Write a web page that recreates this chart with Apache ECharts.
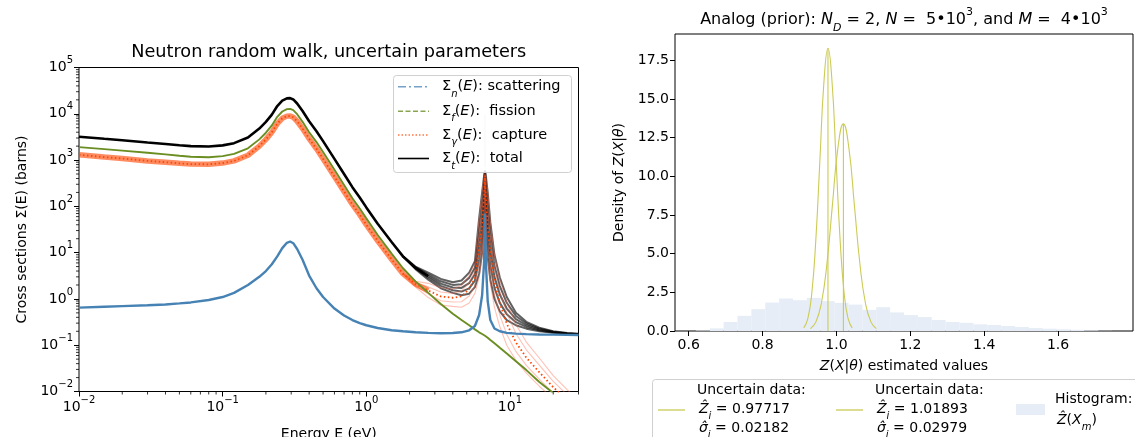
<!DOCTYPE html>
<html><head><meta charset="utf-8">
<script src="https://cdn.jsdelivr.net/npm/echarts@6/dist/echarts.min.js"></script>
<style>html,body{margin:0;padding:0;background:#fff}#c{width:1135px;height:437px}</style>
</head><body><div id="c"></div>
<script>
// ---------------- LEFT PANEL DATA (energy in eV, cross sections in barns) ----------------
const energy = [0.01, 0.015, 0.02, 0.03, 0.04, 0.05, 0.06, 0.08, 0.1, 0.12,
  0.15, 0.18, 0.2, 0.22, 0.24, 0.26, 0.28, 0.295, 0.31, 0.33,
  0.36, 0.4, 0.45, 0.5, 0.6, 0.7, 0.8, 0.9, 1.0, 1.2,
  1.5, 1.8,
  2.2, 2.7, 3.3, 4.0, 4.6, 5.2, 5.7, 6.1, 6.4, 6.6,
  6.7, 6.8, 7.0, 7.3, 7.8, 8.5, 9.5, 11, 13, 16,
  20, 25, 30];
const scattering = [0.65, 0.68, 0.70, 0.73, 0.76, 0.80, 0.84, 0.95, 1.1, 1.35,
  2.0, 3.0, 4.0, 5.6, 8.3, 12.5, 16.3, 17.4, 16, 12,
  7, 3.2, 1.7, 1.1, 0.62, 0.44, 0.35, 0.30, 0.27, 0.235,
  0.21, 0.20,
  0.19, 0.185, 0.182, 0.183, 0.19, 0.21, 0.26, 0.45, 1.2, 6,
  70, 6, 0.9, 0.35, 0.23, 0.2, 0.185, 0.178, 0.174, 0.171,
  0.169, 0.167, 0.166];
const fission = [1900, 1720, 1600, 1440, 1330, 1240, 1180, 1150, 1220, 1360,
  1800, 2800, 3900, 5600, 8600, 11200, 12600, 12800, 12000, 9800,
  6700, 4000, 2450, 1500, 620, 290, 150, 90, 55, 24,
  9.5, 4.6,
  2.4, 1.35, 0.78, 0.48, 0.35, 0.27, 0.22, 0.19, 0.175, 0.165,
  0.16, 0.155, 0.145, 0.13, 0.11, 0.088, 0.066, 0.045, 0.029, 0.016,
  0.0093, 0.0053, 0.0033];
// capture: shared low-energy part (0.01 .. 1.8 eV), then sampled tails (2.2 .. 30 eV)
const captureBase = [1300, 1160, 1080, 960, 900, 850, 820, 810, 860, 960,
  1270, 2000, 2800, 4000, 6100, 8000, 8900, 9000, 8400, 6900,
  4800, 2900, 1750, 1070, 440, 210, 110, 66, 40, 18,
  7.2, 3.5];
const captureTailA = [1.81, 1.07, 0.74, 0.69, 0.66, 0.82, 1.32, 2.86, 8.6, 54, 410, 54, 6.95, 2.12, 0.66, 0.25, 0.1, 0.047, 0.025, 0.013, 0.007, 0.004, 0.0024];
const captureTailB = [1.95, 1.28, 0.916, 0.857, 0.867, 1.16, 1.93, 5.96, 18.9, 91.4, 440, 91.4, 16.1, 4.54, 1.26, 0.45, 0.171, 0.0735, 0.0367, 0.0185, 0.0093, 0.00515, 0.00308];
const captureTailC = [2.09, 1.52, 1.13, 1.06, 1.14, 1.63, 2.82, 12.4, 41.4, 155, 465, 155, 37.2, 9.71, 2.39, 0.808, 0.291, 0.115, 0.054, 0.0262, 0.0124, 0.00663, 0.00395];
const captureTailD = [2.24, 1.82, 1.41, 1.32, 1.49, 2.29, 4.11, 25.9, 90.8, 262, 495, 262, 86.1, 20.8, 4.56, 1.45, 0.498, 0.179, 0.0795, 0.0372, 0.0165, 0.00853, 0.00507];
const captureTailE = [2.41, 2.17, 1.74, 1.64, 1.96, 3.22, 6.0, 54, 199, 444, 530, 444, 199, 44.5, 8.66, 2.61, 0.85, 0.28, 0.117, 0.053, 0.022, 0.011, 0.0065];
// total: shared low-energy part, then sampled tails
const totalBase = [3200, 2880, 2680, 2400, 2230, 2090, 2000, 1960, 2080, 2320,
  3070, 4800, 6700, 9600, 14700, 19200, 21500, 21800, 20400, 16700,
  11500, 6900, 4200, 2570, 1060, 500, 260, 156, 95, 42,
  17, 8.3];
const totalTailA = [4.4, 2.6, 1.7, 1.35, 1.2, 1.3, 1.8, 3.5, 10, 60, 480, 60, 8, 2.6, 1.0, 0.54, 0.35, 0.27, 0.228, 0.2, 0.185, 0.176, 0.171];
const totalTailB = [4.54, 2.84, 1.91, 1.54, 1.44, 1.69, 2.48, 6.97, 21.1, 99.3, 510, 99.3, 17.9, 5.31, 1.73, 0.822, 0.466, 0.315, 0.248, 0.209, 0.189, 0.178, 0.172];
const totalTailC = [4.69, 3.10, 2.14, 1.76, 1.73, 2.19, 3.42, 13.9, 44.7, 164, 540, 164, 40, 10.8, 3.0, 1.25, 0.62, 0.367, 0.27, 0.219, 0.192, 0.179, 0.173];
const totalTailD = [4.84, 3.39, 2.40, 2.01, 2.08, 2.85, 4.72, 27.6, 94.6, 272, 570, 272, 89.5, 22.1, 5.2, 1.90, 0.826, 0.429, 0.294, 0.229, 0.196, 0.181, 0.175];
const totalTailE = [5.0, 3.7, 2.7, 2.3, 2.5, 3.7, 6.5, 55, 200, 450, 600, 450, 200, 45, 9, 2.9, 1.1, 0.5, 0.32, 0.24, 0.2, 0.183, 0.176];
const spikeEnergy = [6.68, 6.7, 6.72];
const spikeTotal = [700, 9500, 700];
const xMinorTicks = [0.02,0.03,0.04,0.05,0.06,0.07,0.08,0.09,0.2,0.3,0.4,0.5,0.6,0.7,0.8,0.9,2,3,4,5,6,7,8,9,20,30];
const yMinorTicks = [0.02,0.03,0.04,0.05,0.06,0.07,0.08,0.09,0.2,0.3,0.4,0.5,0.6,0.7,0.8,0.9,2,3,4,5,6,7,8,9,
  20,30,40,50,60,70,80,90,200,300,400,500,600,700,800,900,2000,3000,4000,5000,6000,7000,8000,9000,
  20000,30000,40000,50000,60000,70000,80000,90000];

// ---------------- RIGHT PANEL DATA ----------------
const histEdges = [0.6195, 0.6571, 0.6946, 0.7322, 0.7698, 0.8074, 0.8449, 0.8825, 0.9201, 0.9576,
  0.9952, 1.0328, 1.0704, 1.1079, 1.1455, 1.1831, 1.2206, 1.2582, 1.2958, 1.3334,
  1.3709, 1.4085, 1.4461, 1.4836, 1.5212, 1.5588, 1.5964, 1.6339, 1.6715, 1.7091, 1.7466];
const histHeights = [0.03, 0.17, 0.58, 0.98, 1.41, 1.84, 2.10, 1.99, 2.14, 1.93,
  1.82, 1.71, 1.37, 1.54, 1.20, 1.03, 0.90, 0.71, 0.58, 0.53,
  0.43, 0.385, 0.32, 0.26, 0.19, 0.15, 0.11, 0.08, 0.04, 0.01];
const gauss1X = [0.9117, 0.9226, 0.9335, 0.9444, 0.9554, 0.9663, 0.9772, 0.9881, 0.9990, 1.0099, 1.0208, 1.0317, 1.0426];
const gauss1Y = [0.20, 0.80, 2.47, 5.94, 11.09, 16.13, 18.28, 16.13, 11.09, 5.94, 2.47, 0.80, 0.20];
const gauss2X = [0.9296, 0.9445, 0.9594, 0.9743, 0.9891, 1.0040, 1.0189, 1.0338, 1.0487, 1.0636, 1.0785, 1.0934, 1.1083];
const gauss2Y = [0.15, 0.59, 1.81, 4.35, 8.12, 11.82, 13.39, 11.82, 8.12, 4.35, 1.81, 0.59, 0.15];
const means = [0.97717, 1.01893];
const peaks = [18.28, 13.39];
const rightXTicks = [0.6, 0.8, 1.0, 1.2, 1.4, 1.6];
const rightYTicks = [0, 2.5, 5, 7.5, 10, 12.5, 15, 17.5];

// ---------------- helpers ----------------
const FONT = 'DejaVu Sans';
function rich(size, key) {
  const sm = Math.round(size * 0.7);
  const lh = Math.round(size * 1.7);
  const mk = (o) => { const r = Object.assign({fontFamily: FONT, fontSize: size, verticalAlign: 'middle', lineHeight: lh}, o); r[key] = '#000'; return r; };
  return {
    n: mk({}),
    i: mk({fontStyle: 'italic'}),
    sup: mk({fontSize: sm, lineHeight: Math.round(lh * 0.5), verticalAlign: 'top'}),
    sub: mk({fontSize: sm, lineHeight: Math.round(lh * 0.7), verticalAlign: 'bottom'}),
    isub: mk({fontSize: sm, fontStyle: 'italic', lineHeight: Math.round(lh * 0.7), verticalAlign: 'bottom'})
  };
}
const pair = (xs, ys) => xs.map((x, i) => [x, ys[i]]);
const full = (base, tail) => pair(energy, base.concat(tail));
const pow10 = (v) => {
  const e = Math.log10(v), r = Math.round(e);
  if (Math.abs(e - r) > 1e-6) return '';
  return '{n|10}{sup|' + (r < 0 ? '\u2212' + (-r) : r) + '}';
};

const L = {left: 79, top: 67.5, width: 499.5, height: 324};
const R = {left: 675, top: 34, width: 458, height: 297};

function lineSeries(name, data, color, width, extra) {
  return Object.assign({
    name, type: 'line', xAxisIndex: 0, yAxisIndex: 0, data, symbol: 'none',
    lineStyle: {color, width}, silent: true, animation: false
  }, extra || {});
}

const captureSamples = [captureTailA, captureTailB, captureTailD, captureTailE];
const totalSamples = [totalTailA, totalTailB, totalTailC, totalTailD, totalTailE];
const captureMeanFull = full(captureBase, captureTailC);

const series = [];
series.push(lineSeries('total base', full(totalBase, totalTailC).slice(0, 34), '#000', 2.6));
totalSamples.forEach((t, k) => series.push(lineSeries('total sample ' + k, full(totalBase, t).slice(31), 'rgba(0,0,0,0.62)', 2)));
series.push(lineSeries('total spike', pair(spikeEnergy, spikeTotal), 'rgba(0,0,0,0.18)', 1.2));
captureSamples.forEach((t, k) => series.push(lineSeries('capture sample ' + k, full(captureBase, t).slice(31), 'rgba(255,99,71,0.4)', 1.1)));
series.push(lineSeries('capture band', captureMeanFull.slice(0, 34), 'rgba(255,69,0,0.62)', 5.5));
series.push(lineSeries('Σγ(E): capture', captureMeanFull, '#ff4500', 1.8, {lineStyle: {color: '#ff4500', width: 1.8, type: [1.5, 2.5]}}));
series.push(lineSeries('Σf(E): fission', pair(energy, fission), '#6b8e23', 1.9));
series.push(lineSeries('Σn(E): scattering', pair(energy, scattering), '#4682b4', 2.4));
// minor ticks of the log axes
series.push({
  type: 'custom', xAxisIndex: 0, yAxisIndex: 0, silent: true, animation: false, clip: false,
  data: xMinorTicks.map(v => [v, 0.01]),
  renderItem: (p, api) => { const c = api.coord([api.value(0), api.value(1)]);
    return {type: 'line', shape: {x1: c[0], y1: c[1], x2: c[0], y2: c[1] + 3}, style: {stroke: '#000', lineWidth: 0.8}}; }
});
series.push({
  type: 'custom', xAxisIndex: 0, yAxisIndex: 0, silent: true, animation: false, clip: false,
  data: yMinorTicks.map(v => [0.01, v]),
  renderItem: (p, api) => { const c = api.coord([api.value(0), api.value(1)]);
    return {type: 'line', shape: {x1: c[0] - 3, y1: c[1], x2: c[0], y2: c[1]}, style: {stroke: '#000', lineWidth: 0.8}}; }
});
// right panel
series.push({
  name: 'Histogram', type: 'custom', xAxisIndex: 1, yAxisIndex: 1, silent: true, animation: false,
  data: histHeights.map((h, i) => [histEdges[i], histEdges[i + 1], h]),
  encode: {x: [0, 1], y: 2},
  renderItem: (p, api) => {
    const a = api.coord([api.value(0), api.value(2)]);
    const b = api.coord([api.value(1), 0]);
    return {type: 'rect', shape: {x: a[0], y: a[1], width: b[0] - a[0], height: b[1] - a[1]}, style: {fill: '#e6edf6'}};
  }
});
const gColor = '#cbcb55';
[[gauss1X, gauss1Y], [gauss2X, gauss2Y]].forEach((g, k) => {
  series.push({name: 'Uncertain data ' + (k + 1), type: 'line', xAxisIndex: 1, yAxisIndex: 1, data: pair(g[0], g[1]),
    symbol: 'none', smooth: 0.5, lineStyle: {color: gColor, width: 1.1}, silent: true, animation: false});
  series.push({name: 'mean ' + (k + 1), type: 'line', xAxisIndex: 1, yAxisIndex: 1, data: [[means[k], 0], [means[k], peaks[k]]],
    symbol: 'none', lineStyle: {color: gColor, width: 1.1}, silent: true, animation: false});
});

const tickLabelRich = rich(14, 'color');
const axisCommon = {
  axisLine: {show: false},
  splitLine: {show: false},
  axisTick: {show: true, inside: false, length: 5, lineStyle: {color: '#000', width: 1}}
};
const gridCommon = {show: true, borderColor: '#000', borderWidth: 1, backgroundColor: 'transparent', containLabel: false, outerBoundsMode: 'none'};

const option = {
  animation: false,
  backgroundColor: '#fff',
  grid: [
    Object.assign({}, gridCommon, L),
    Object.assign({}, gridCommon, R)
  ],
  xAxis: [
    Object.assign({}, axisCommon, {
      gridIndex: 0, type: 'log', logBase: 10, min: 0.01, max: 30,
      axisLabel: {formatter: pow10, rich: tickLabelRich, margin: 4, showMaxLabel: false},
      name: 'Energy E (eV)', nameLocation: 'middle', nameGap: 36,
      nameTextStyle: {fontFamily: FONT, fontSize: 14, color: '#000'}
    }),
    Object.assign({}, axisCommon, {
      gridIndex: 1, type: 'value', min: 0.563, max: 1.803,
      axisTick: {show: true, length: 5, lineStyle: {color: '#000', width: 1}, customValues: rightXTicks},
      axisLabel: {customValues: rightXTicks, formatter: v => v.toFixed(1), fontFamily: FONT, fontSize: 14, color: '#000', margin: 7},
      name: '{i|Z}{n|(}{i|X}{n||}{i|θ}{n|) estimated values}', nameLocation: 'middle', nameGap: 23,
      nameTextStyle: {rich: rich(14, 'color')}
    })
  ],
  yAxis: [
    Object.assign({}, axisCommon, {
      gridIndex: 0, type: 'log', logBase: 10, min: 0.01, max: 100000,
      axisLabel: {formatter: pow10, rich: tickLabelRich, margin: 6},
      name: 'Cross sections Σ(E) (barns)', nameLocation: 'middle', nameGap: 50,
      nameTextStyle: {fontFamily: FONT, fontSize: 14, color: '#000'}
    }),
    Object.assign({}, axisCommon, {
      gridIndex: 1, type: 'value', min: 0, max: 19.2,
      axisTick: {show: true, length: 5, lineStyle: {color: '#000', width: 1}, customValues: rightYTicks},
      axisLabel: {customValues: rightYTicks, formatter: v => v.toFixed(1), fontFamily: FONT, fontSize: 14, color: '#000', margin: 6},
      name: '{n|Density of }{i|Z}{n|(}{i|X}{n||}{i|θ}{n|)}', nameLocation: 'middle', nameGap: 44,
      nameTextStyle: {rich: rich(14, 'color')}
    })
  ],
  series,
  graphic: []
};

// titles
const g = option.graphic;
g.push({type: 'text', x: L.left + L.width / 2, y: 52.5, z: 50, style: {text: 'Neutron random walk, uncertain parameters', fontFamily: FONT, fontSize: 17.7, fill: '#000', align: 'center', verticalAlign: 'middle'}});
g.push({type: 'text', x: R.left + R.width / 2, y: 20, z: 50, style: {
  text: '{n|Analog (prior): }{i|N}{isub|D}{n| = 2, }{i|N}{n| =  5•10}{sup|3}{n|, and }{i|M}{n| =  4•10}{sup|3}',
  rich: rich(16, 'fill'), align: 'center', verticalAlign: 'middle'}});

// left legend
g.push({type: 'rect', z: 60, shape: {x: 393.5, y: 75.5, width: 178, height: 97, r: 3}, style: {fill: 'rgba(255,255,255,0.85)', stroke: '#d0d0d0', lineWidth: 1}});
const legRows = [
  {y: 86.7, color: 'rgba(70,130,180,0.75)', dash: [8, 3, 2, 3], w: 1.6, text: '{n|Σ}{isub|n}{n|(}{i|E}{n|): scattering}'},
  {y: 111.2, color: 'rgba(107,142,35,0.8)', dash: [5, 2.5], w: 1.6, text: '{n|Σ}{isub|f}{n|(}{i|E}{n|):  fission}'},
  {y: 135, color: 'rgba(255,69,0,0.75)', dash: [1.5, 2], w: 1.6, text: '{n|Σ}{isub|γ}{n|(}{i|E}{n|):  capture}'},
  {y: 158.5, color: '#000', dash: null, w: 1.6, text: '{n|Σ}{isub|t}{n|(}{i|E}{n|):  total}'}
];
legRows.forEach(r => {
  g.push({type: 'line', z: 61, shape: {x1: 398, y1: r.y, x2: 429, y2: r.y}, style: {stroke: r.color, lineWidth: r.w, lineDash: r.dash}});
  g.push({type: 'text', z: 61, x: 442, y: r.y, style: {text: r.text, rich: rich(14.5, 'fill'), align: 'left', verticalAlign: 'middle'}});
});

// right legend (below right panel)
g.push({type: 'rect', z: 60, shape: {x: 652.5, y: 379.5, width: 520, height: 80, r: 3}, style: {fill: '#fff', stroke: '#d0d0d0', lineWidth: 1}});
const rl = [
  {lx: 658, tx: 697, z: '0.97717', s: '0.02182'},
  {lx: 836, tx: 875, z: '1.01893', s: '0.02979'}
];
rl.forEach(e => {
  g.push({type: 'line', z: 61, shape: {x1: e.lx, y1: 410, x2: e.lx + 27, y2: 410}, style: {stroke: gColor, lineWidth: 1.3}});
  g.push({type: 'text', z: 61, x: e.tx, y: 390, style: {text: '{n|Uncertain data:}', rich: rich(14, 'fill'), align: 'left', verticalAlign: 'middle'}});
  g.push({type: 'text', z: 61, x: e.tx + 2, y: 409.5, style: {text: '{i|Ẑ}{isub|i}{n| = ' + e.z + '}', rich: rich(14, 'fill'), align: 'left', verticalAlign: 'middle'}});
  g.push({type: 'text', z: 61, x: e.tx + 2, y: 428, style: {text: '{i|σ̂}{isub|i}{n| = ' + e.s + '}', rich: rich(14, 'fill'), align: 'left', verticalAlign: 'middle'}});
});
g.push({type: 'rect', z: 61, shape: {x: 1016, y: 404, width: 29, height: 11}, style: {fill: '#e6edf6'}});
g.push({type: 'text', z: 61, x: 1055, y: 399, style: {text: '{n|Histogram:}', rich: rich(14, 'fill'), align: 'left', verticalAlign: 'middle'}});
g.push({type: 'text', z: 61, x: 1057, y: 420, style: {text: '{i|Ẑ}{n|(}{i|X}{isub|m}{n|)}', rich: rich(14, 'fill'), align: 'left', verticalAlign: 'middle'}});

const chart = echarts.init(document.getElementById('c'), null, {renderer: 'canvas'});
chart.setOption(option);
</script>
</body></html>
